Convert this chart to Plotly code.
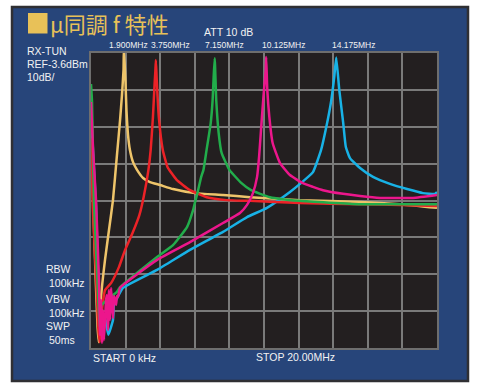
import plotly.graph_objects as go

# Spectrum analyser sweep, 0-20 MHz, REF -3.6 dBm, 10 dB/div
tune_labels = ["1.900MHz", "3.750MHz", "7.150MHz", "10.125MHz", "14.175MHz"]
tune_freqs = [1.900, 3.750, 7.150, 10.125, 14.175]

# 1.9 MHz (yellow)
f_190 = [0, 0.10, 0.25, 0.38, 0.45, 0.52, 0.58, 0.81, 1.04, 1.27, 1.50, 1.68, 1.79, 1.88, 1.90,
         1.99, 2.05, 2.14, 2.25, 2.43, 2.66, 3.01, 3.41, 3.99, 4.74, 6.01, 7.63, 9.19, 12.08,
         15.55, 17.86, 20.0]
db_190 = [-19.1, -40.0, -62.0, -78.0, -82.0, -76.0, -69.8, -59.7, -51.6, -43.5, -31.3, -21.8,
          -15.0, -8.2, -2.5, -10.9, -19.1, -25.8, -29.9, -33.2, -35.3, -37.5, -38.6, -39.4,
          -40.5, -41.6, -42.1, -42.7, -43.5, -44.0, -44.6, -45.6]

# 3.75 MHz (red)
f_375 = [0, 0.10, 0.30, 0.42, 0.50, 0.62, 0.81, 1.16, 1.62, 1.97, 2.43, 2.80, 3.05, 3.32, 3.45,
         3.58, 3.68, 3.72, 3.75, 3.80, 3.92, 4.15, 4.42, 4.95, 5.72, 6.69, 7.84, 9.19, 12.08,
         15.55, 17.86, 20.0]
db_375 = [-26.7, -45.0, -65.0, -78.0, -82.0, -74.0, -67.9, -66.0, -61.6, -57.0, -52.1, -47.5,
          -42.5, -35.3, -29.9, -21.0, -11.7, -8.5, -5.5, -11.0, -21.0, -29.9, -34.5, -38.0,
          -40.8, -42.7, -43.5, -43.7, -44.3, -44.6, -44.8, -45.1]

# 7.15 MHz (green)
f_715 = [0, 0.06, 0.17, 0.40, 0.50, 0.60, 1.50, 1.68, 3.82, 4.74, 5.55, 5.90, 6.00, 6.15, 6.37,
         6.50, 6.68, 6.92, 7.03, 7.09, 7.15, 7.24, 7.38, 7.55, 8.00, 8.70, 9.25, 10.35, 12.08,
         15.55, 20.0]
db_715 = [-12.0, -16.9, -43.5, -67.9, -78.0, -72.0, -68.4, -67.1, -58.9, -55.7, -50.8, -46.2,
          -44.3, -41.6, -37.2, -35.3, -29.9, -22.6, -16.4, -10.1, -5.0, -16.4, -25.3, -30.7,
          -35.3, -38.9, -40.8, -42.7, -43.7, -44.6, -44.6]

# 10.125 MHz (magenta)
f_1013 = [0, 0.12, 0.29, 0.46, 0.52, 0.58, 0.64, 0.69, 0.75, 0.87, 0.92, 0.98, 1.04, 1.10, 1.16,
          1.21, 1.27, 1.33, 1.45, 1.50, 1.56, 1.68, 3.82, 5.72, 7.63, 8.61, 9.02, 9.36, 9.60,
          9.72, 9.88, 10.00, 10.10, 10.125, 10.19, 10.31, 10.50, 10.92, 11.50, 12.25, 12.83,
          13.41, 14.57, 15.55, 16.71, 18.61, 20.0]
db_1013 = [-16.9, -29.9, -43.5, -65.2, -80.1, -70.6, -82.2, -73.3, -81.4, -70.6, -69.2, -78.7,
           -67.9, -76.0, -67.3, -70.6, -75.5, -69.5, -71.9, -69.5, -69.8, -67.3, -59.7, -54.9,
           -49.7, -47.0, -44.8, -41.6, -37.2, -31.5, -21.0, -13.6, -8.2, -4.7, -13.6, -21.0,
           -28.0, -33.4, -36.7, -38.9, -39.9, -40.8, -41.8, -42.4, -42.9, -42.9, -42.1]

# 14.175 MHz (cyan)
f_1418 = [0, 0.29, 0.45, 0.60, 0.80, 1.00, 1.27, 1.33, 1.39, 1.85, 3.82, 5.72, 7.63, 9.02,
          10.17, 11.50, 12.08, 12.83, 13.30, 13.60, 13.89, 14.06, 14.175, 14.35, 14.58, 14.73,
          14.97, 15.55, 16.30, 17.28, 18.27, 19.19, 19.88, 20.0]
db_1418 = [-20.0, -45.0, -70.0, -80.0, -75.0, -80.0, -76.0, -71.4, -71.1, -67.3, -62.4, -57.0,
           -52.1, -48.1, -45.6, -41.3, -39.1, -35.9, -29.9, -23.7, -16.4, -10.1, -4.8, -13.6,
           -22.6, -29.1, -32.1, -34.8, -37.2, -39.1, -40.5, -41.6, -41.8, -41.3]

# drawing order: later traces sit on top
traces = [
    (f_190, db_190, "#eec46a"),
    (f_1418, db_1418, "#18b2e6"),
    (f_375, db_375, "#ec2227"),
    (f_715, db_715, "#22ad4b"),
    (f_1013, db_1013, "#ec168c"),
]

# plot-area edges in page pixels
L, R, T, B = 91, 437, 53, 348


def px(x):
    return (x - L) / (R - L)


def py(y):
    return (B - y) / (B - T)


fig = go.Figure()
for f, db, col in traces:
    fig.add_trace(go.Scatter(x=f, y=db, mode="lines",
                             line=dict(color=col, width=2.5, shape="spline", smoothing=0.4),
                             hoverinfo="skip", showlegend=False))

PANEL = "#27457a"
SCREEN = "#231f20"
WHITE = "#f2f2f2"
GOLD = "#e8c158"
FONT = "Liberation Sans"

shapes = [
    # blue instrument panel
    dict(type="rect", xref="paper", yref="paper", x0=px(12), x1=px(468), y0=py(381), y1=py(7),
         fillcolor=PANEL, line=dict(color="#2f2f33", width=2.5), layer="below"),
    # dark display screen behind the traces
    dict(type="rect", xref="paper", yref="paper", x0=0, x1=1, y0=0, y1=1,
         fillcolor=SCREEN, line=dict(width=0), layer="below"),
    # gold marker square beside the title
    dict(type="rect", xref="paper", yref="paper", x0=px(28), x1=px(47.5), y0=py(33.5), y1=py(13),
         fillcolor=GOLD, line=dict(width=0), layer="above"),
]

annotations = []


def label(text, x, y, size=10.5, color=WHITE, family=FONT, anchor="left"):
    annotations.append(dict(text=text, x=px(x), y=py(y), xref="paper", yref="paper",
                            xanchor=anchor, yanchor="middle", showarrow=False,
                            font=dict(size=size, color=color, family=family)))


label("μ同調 f 特性", 48, 23.5, size=22, color=GOLD, family="Noto Sans CJK JP")
label("ATT 10 dB", 202, 32)
label("RX-TUN", 25, 51)
label("REF-3.6dBm", 25, 64)
label("10dB/", 25, 77)
for t, cx in zip(tune_labels, [128.5, 170.5, 224, 283.5, 353]):
    label(t, cx, 45, size=8.5, anchor="center")
label("RBW", 44, 269)
label("100kHz", 47, 283)
label("VBW", 44, 299)
label("100kHz", 47, 313)
label("SWP", 44, 326)
label("50ms", 47, 340)
label("START 0 kHz", 91, 358)
label("STOP 20.00MHz", 254, 357)

GRID = "#7a7a7a"
fig.update_layout(
    width=483, height=383,
    margin=dict(l=L, r=483 - R, t=T, b=383 - B),
    paper_bgcolor="white",
    plot_bgcolor="rgba(0,0,0,0)",
    shapes=shapes,
    annotations=annotations,
    xaxis=dict(range=[0, 20], dtick=2, tick0=0, showgrid=True, gridcolor=GRID, gridwidth=1.5,
               showticklabels=False, ticks="", zeroline=False, showline=True, mirror=True,
               linecolor="#6e6e6e", linewidth=2, fixedrange=True),
    yaxis=dict(range=[-83.6, -3.6], dtick=10, tick0=-3.6, showgrid=True, gridcolor=GRID,
               gridwidth=1.5, showticklabels=False, ticks="", zeroline=False, showline=True,
               mirror=True, linecolor="#6e6e6e", linewidth=2, fixedrange=True),
)

fig.write_html("out.html")
